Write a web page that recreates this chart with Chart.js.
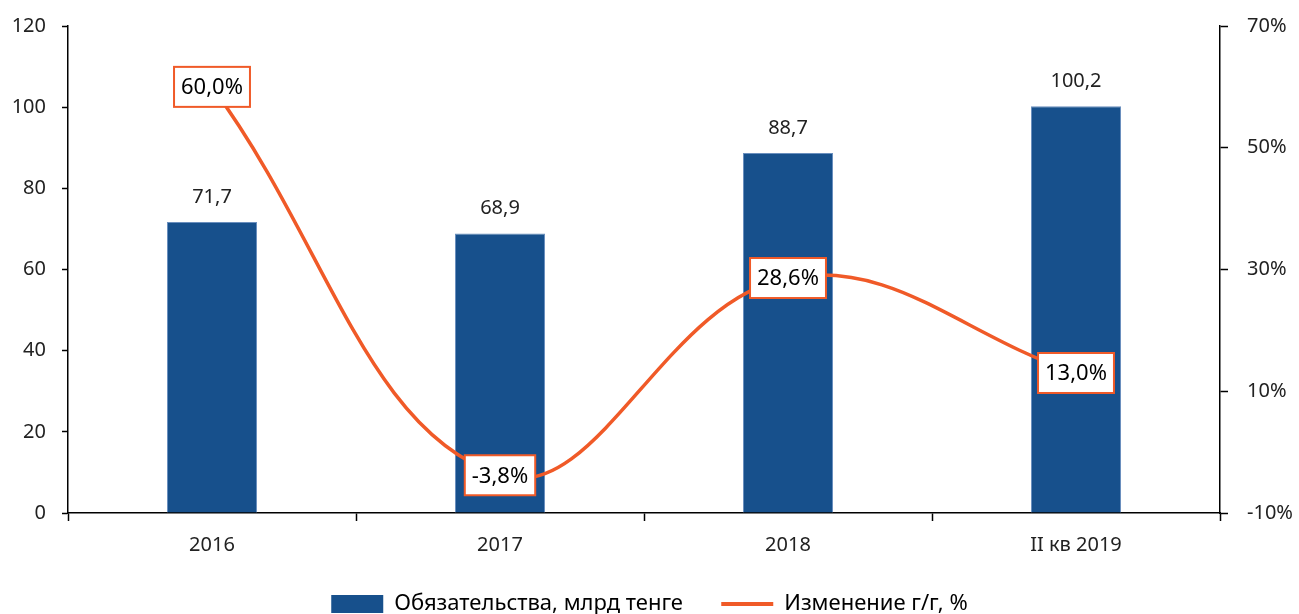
<!DOCTYPE html>
<html>
<head>
<meta charset="utf-8">
<script src="https://cdn.jsdelivr.net/npm/chart.js@4/dist/chart.umd.min.js"></script>
<style>
  html, body { margin: 0; padding: 0; background: #fff; }
  #wrap { width: 1299px; height: 614px; }
</style>
</head>
<body>
<div id="wrap"><canvas id="chart"></canvas></div>
<script>
const categories = ['2016', '2017', '2018', 'II кв 2019'];
const liabilities = [71.7, 68.9, 88.7, 100.2];
const changeYoY = [60.0, -3.8, 28.6, 13.0];
const barLabel = 'Обязательства, млрд тенге';
const lineLabel = 'Изменение г/г, %';

const BLUE = '#17508C';
const ORANGE = '#F05A28';
const FONT = '"Noto Sans", "Open Sans", sans-serif';

const fmt = v => v.toFixed(1).replace('.', ',');

// value labels: plain above bars, boxed on the line
const valueLabels = {
    id: 'valueLabels',
    afterDatasetsDraw(chart) {
        const ctx = chart.ctx;
        ctx.save();
        ctx.textAlign = 'center';
        ctx.textBaseline = 'middle';

        const bars = chart.getDatasetMeta(0).data;
        ctx.font = '20px ' + FONT;
        ctx.fillStyle = '#222';
        bars.forEach((bar, i) => {
            ctx.fillText(fmt(liabilities[i]), bar.x, bar.y - 25);
        });

        const pts = chart.getDatasetMeta(1).data;
        ctx.font = '22px ' + FONT;
        pts.forEach((p, i) => {
            const txt = fmt(changeYoY[i]) + '%';
            const w = ctx.measureText(txt).width + 14;
            const h = 40;
            ctx.fillStyle = '#fff';
            ctx.fillRect(p.x - w / 2, p.y - h / 2, w, h);
            ctx.strokeStyle = ORANGE;
            ctx.lineWidth = 2;
            ctx.strokeRect(p.x - w / 2, p.y - h / 2, w, h);
            ctx.fillStyle = '#000';
            ctx.fillText(txt, p.x, p.y + 1);
        });
        ctx.restore();
    }
};

// fixed side widths, no extra label overhang
const fitSide = w => scale => {
    scale.width = w;
    scale.paddingTop = 0;
    scale.paddingBottom = 0;
};

new Chart(document.getElementById('chart'), {
    data: {
        labels: categories,
        datasets: [
            {
                type: 'bar',
                label: barLabel,
                data: liabilities,
                yAxisID: 'y',
                backgroundColor: BLUE,
                borderColor: '#6A8FBE',
                borderWidth: 1,
                barPercentage: 0.3125,
                categoryPercentage: 1,
                order: 2
            },
            {
                type: 'line',
                label: lineLabel,
                data: changeYoY,
                yAxisID: 'y1',
                borderColor: ORANGE,
                backgroundColor: ORANGE,
                borderWidth: 3.5,
                pointRadius: 0,
                tension: 0.4,
                order: 1
            }
        ]
    },
    options: {
        responsive: true,
        maintainAspectRatio: false,
        animation: false,
        layout: { padding: { top: 26, left: 0, right: 0, bottom: -11 } },
        plugins: {
            tooltip: { enabled: false },
            legend: {
                position: 'bottom',
                labels: {
                    font: { family: FONT, size: 22 },
                    color: '#111',
                    usePointStyle: true,
                    pointStyleWidth: 52,
                    boxHeight: 18,
                    padding: 4,
                    generateLabels(chart) {
                        return [
                            { text: barLabel + '      ', fillStyle: BLUE, strokeStyle: BLUE, lineWidth: 0, pointStyle: 'rect', datasetIndex: 0 },
                            { text: lineLabel, fillStyle: ORANGE, strokeStyle: ORANGE, lineWidth: 4, pointStyle: 'line', datasetIndex: 1 }
                        ];
                    }
                }
            }
        },
        scales: {
            x: {
                offset: true,
                grid: { offset: true, drawOnChartArea: false, color: '#000', tickLength: 8, tickWidth: 1.5 },
                border: { display: true, color: '#000', width: 1.5 },
                ticks: { font: { family: FONT, size: 20 }, color: '#222', padding: 12 },
                afterFit(scale) { scale.height = 76; }
            },
            y: {
                position: 'left',
                min: 0,
                max: 120,
                grid: { drawOnChartArea: false, color: '#000', tickLength: 6, tickWidth: 1.5 },
                border: { display: true, color: '#000', width: 1.5 },
                ticks: { stepSize: 20, font: { family: FONT, size: 20 }, color: '#222', padding: 16 },
                afterFit: fitSide(68)
            },
            y1: {
                position: 'right',
                min: -10,
                max: 70,
                grid: { drawOnChartArea: false, color: '#000', tickLength: 8, tickWidth: 1.5 },
                border: { display: true, color: '#000', width: 1.5 },
                ticks: {
                    stepSize: 20,
                    font: { family: FONT, size: 20 },
                    color: '#222',
                    padding: 19,
                    callback: v => v + '%'
                },
                afterFit: fitSide(79)
            }
        }
    },
    plugins: [valueLabels]
});
</script>
</body>
</html>
